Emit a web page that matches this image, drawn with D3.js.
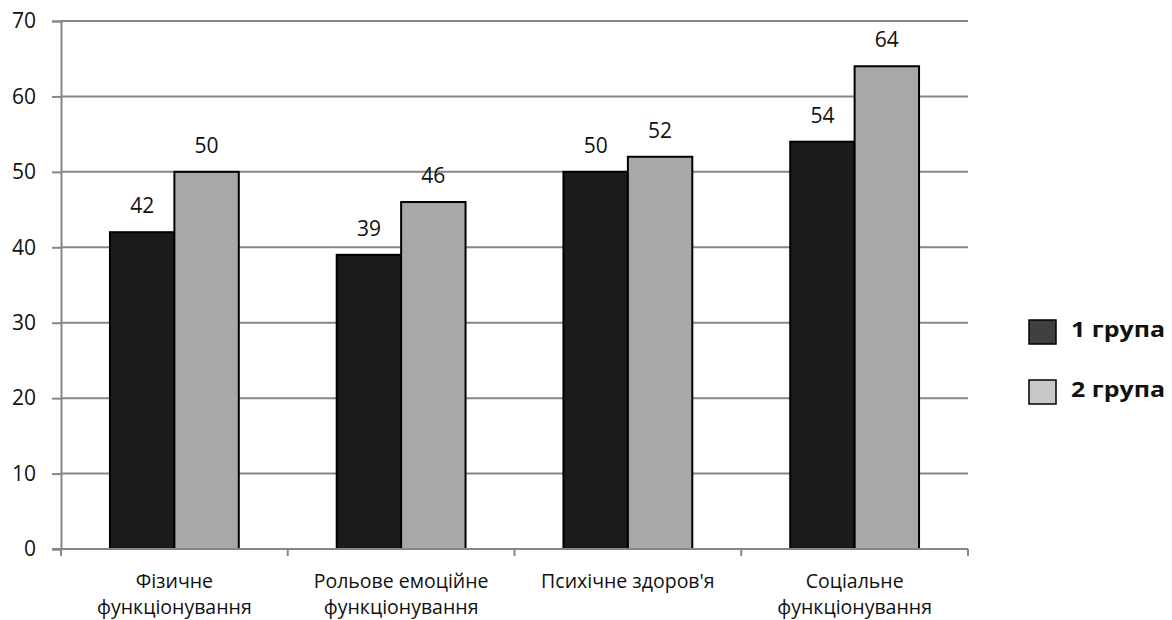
<!DOCTYPE html>
<html>
<head>
<meta charset="utf-8">
<script src="https://cdn.jsdelivr.net/npm/d3@7.9.0/dist/d3.min.js"></script>
<style>
  body { margin: 0; background: #fff; }
  text { font-family: "Open Sans", "Noto Sans", sans-serif; fill: #111; }
</style>
</head>
<body>
<svg id="chart" width="1172" height="620"></svg>
<script>
const categories = [
  ["Фізичне", "функціонування"],
  ["Рольове емоційне", "функціонування"],
  ["Психічне здоров'я"],
  ["Соціальне", "функціонування"]
];
const series = ["1 група", "2 група"];
const group1 = [42, 39, 50, 54];
const group2 = [50, 46, 52, 64];
const yTicks = [0, 10, 20, 30, 40, 50, 60, 70];

const barFill = ["#1b1b1b", "#a8a8a8"];
const legendFill = ["#404040", "#c8c8c8"];

const svg = d3.select("#chart");
const plotLeft = 61, plotRight = 968, plotTop = 21, plotBottom = 549;

const x = d3.scaleBand().domain(d3.range(categories.length)).range([plotLeft, plotRight]).padding(0);
const xi = d3.scaleBand().domain(series).range([0, x.bandwidth()]).paddingInner(0).paddingOuter(0.76);
const y = d3.scaleLinear().domain([0, 70]).range([plotBottom, plotTop]);

// gridlines
svg.append("g").selectAll("line").data(yTicks.filter(d => d > 0)).join("line")
  .attr("x1", plotLeft).attr("x2", plotRight)
  .attr("y1", d => y(d)).attr("y2", d => y(d))
  .attr("stroke", "#868686").attr("stroke-width", 2);

// y axis
const yAxis = svg.append("g").attr("transform", `translate(${plotLeft},0)`)
  .call(d3.axisLeft(y).tickValues(yTicks).tickSize(9).tickPadding(16));
yAxis.select(".domain").attr("stroke", "#868686").attr("stroke-width", 2);
yAxis.selectAll(".tick line").attr("stroke", "#868686").attr("stroke-width", 2);
yAxis.selectAll(".tick text").attr("font-size", 21).attr("font-family", "Open Sans").attr("fill", "#111");

// bars
const data = categories.map((c, i) => [group1[i], group2[i]]);
const groups = svg.append("g").selectAll("g").data(data).join("g")
  .attr("transform", (d, i) => `translate(${x(i)},0)`);
groups.selectAll("rect").data(d => d.map((v, j) => ({v, s: series[j], j}))).join("rect")
  .attr("x", d => xi(d.s)).attr("width", xi.bandwidth())
  .attr("y", d => y(d.v)).attr("height", d => y(0) - y(d.v))
  .attr("fill", d => barFill[d.j]).attr("stroke", "#000").attr("stroke-width", 2);
groups.selectAll("text").data(d => d.map((v, j) => ({v, s: series[j], j}))).join("text")
  .attr("x", d => xi(d.s) + xi.bandwidth() / 2).attr("y", d => y(d.v) - 19)
  .attr("text-anchor", "middle").attr("font-size", 21)
  .text(d => d.v);

// x axis
const xAxis = svg.append("g").attr("transform", `translate(0,${plotBottom})`);
xAxis.append("line").attr("x1", plotLeft - 9).attr("x2", plotRight).attr("stroke", "#868686").attr("stroke-width", 2);
xAxis.selectAll(".tk").data(d3.range(categories.length + 1)).join("line").attr("class", "tk")
  .attr("x1", i => plotLeft + i * x.step()).attr("x2", i => plotLeft + i * x.step())
  .attr("y1", 0).attr("y2", 7).attr("stroke", "#868686").attr("stroke-width", 2);
const lbl = xAxis.selectAll(".lbl").data(categories).join("text").attr("class", "lbl")
  .attr("text-anchor", "middle").attr("font-size", 19.5);
lbl.selectAll("tspan").data((d, i) => d.map(t => ({t, i}))).join("tspan")
  .attr("x", d => x(d.i) + x.bandwidth() / 2)
  .attr("y", (d, k) => 39 + k * 26)
  .text(d => d.t);

// legend
const legend = svg.append("g").selectAll("g").data(series).join("g")
  .attr("transform", (d, i) => `translate(1029,${320 + i * 60})`);
legend.append("rect").attr("width", 27).attr("height", 24)
  .attr("fill", (d, i) => legendFill[i]).attr("stroke", "#000").attr("stroke-width", 1.5);
legend.append("text").attr("x", 42).attr("y", 16.5)
  .attr("font-family", "Liberation Sans, Arial, sans-serif").attr("font-weight", "bold")
  .attr("font-size", 22).attr("textLength", 94).attr("lengthAdjust", "spacingAndGlyphs")
  .text(d => d);
</script>
</body>
</html>
